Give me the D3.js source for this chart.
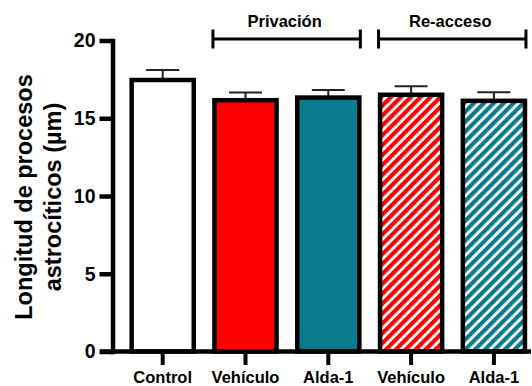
<!DOCTYPE html>
<html>
<head>
<meta charset="utf-8">
<script src="https://d3js.org/d3.v7.min.js"></script>
<style>
  body { margin: 0; background: #fff; }
  text { font-family: Arial, "Liberation Sans", sans-serif; font-weight: bold; fill: #000; }
</style>
</head>
<body>
<div id="container"></div>
<script>
  // data
  var labels = ["Control", "Vehículo", "Alda-1", "Vehículo", "Alda-1"];
  var means = [17.46, 16.16, 16.33, 16.51, 16.12];
  var sems = [0.64, 0.5, 0.48, 0.55, 0.56];
  var yTicks = [0, 5, 10, 15, 20];
  // brackets over the groups: name, first bar, last bar
  var groupNames = ["Privación", "Re-acceso"];
  var groupFrom = [1, 3];
  var groupTo = [2, 4];

  var width = 532, height = 386;
  var red = "#ff0000", teal = "#0a7b8e";

  var svg = d3.select("#container").append("svg")
    .attr("width", width)
    .attr("height", height);

  // hatch patterns for the re-access bars
  var defs = svg.append("defs");
  function hatch(id, color) {
    var p = defs.append("pattern")
      .attr("id", id)
      .attr("patternUnits", "userSpaceOnUse")
      .attr("width", 7)
      .attr("height", 7)
      .attr("patternTransform", "rotate(45)");
    p.append("rect").attr("width", 7).attr("height", 7).attr("fill", "#fff");
    p.append("rect").attr("width", 4.2).attr("height", 7).attr("fill", color);
  }
  hatch("hatchRed", red);
  hatch("hatchTeal", teal);

  var fills = ["#fff", red, teal, "url(#hatchRed)", "url(#hatchTeal)"];

  var x = d3.scaleBand()
    .domain(d3.range(labels.length))
    .range([121.3, 535.3])
    .paddingInner(0.25)
    .paddingOuter(0.125);

  var y = d3.scaleLinear()
    .domain([0, 20])
    .range([351.5, 40.5]);

  // error bars (upper half only, drawn under the bars)
  var err = svg.append("g")
    .attr("stroke", "#222")
    .attr("stroke-width", 2);
  means.forEach(function(m, i) {
    var cx = x(i) + x.bandwidth() / 2;
    err.append("line")
      .attr("x1", cx).attr("x2", cx)
      .attr("y1", y(m)).attr("y2", y(m + sems[i]));
    err.append("line")
      .attr("x1", cx - 16.5).attr("x2", cx + 16.5)
      .attr("y1", y(m + sems[i])).attr("y2", y(m + sems[i]));
  });

  // bars
  svg.append("g").selectAll("rect")
    .data(means)
    .join("rect")
    .attr("x", function(d, i) { return x(i); })
    .attr("y", function(d) { return y(d); })
    .attr("width", x.bandwidth())
    .attr("height", function(d) { return y(0) - y(d); })
    .attr("fill", function(d, i) { return fills[i]; })
    .attr("stroke", "#000")
    .attr("stroke-width", 4.5);

  // y axis
  var yAxis = svg.append("g")
    .attr("transform", "translate(112.5,0)")
    .call(d3.axisLeft(y).tickValues(yTicks).tickSize(13).tickSizeOuter(0).tickPadding(4));
  yAxis.select(".domain")
    .attr("stroke-width", 4.5)
    .attr("stroke-linecap", "square");
  yAxis.selectAll(".tick line").attr("stroke-width", 4.5);
  yAxis.selectAll(".tick text")
    .style("font-size", "19.5px")
    .style("font-family", "Arial, 'Liberation Sans', sans-serif")
    .style("font-weight", "bold");

  // x axis
  svg.append("line")
    .attr("x1", 100).attr("x2", 531)
    .attr("y1", y(0)).attr("y2", y(0))
    .attr("stroke", "#000")
    .attr("stroke-width", 4.5);
  var xg = svg.append("g");
  labels.forEach(function(l, i) {
    var cx = x(i) + x.bandwidth() / 2;
    xg.append("line")
      .attr("x1", cx).attr("x2", cx)
      .attr("y1", y(0)).attr("y2", y(0) + 13.5)
      .attr("stroke", "#000")
      .attr("stroke-width", 4);
    xg.append("text")
      .attr("x", cx)
      .attr("y", 383.3)
      .attr("text-anchor", "middle")
      .style("font-size", "16.5px")
      .text(l);
  });

  // y title
  var titleLines = ["Longitud de procesos", "astrocíticos (µm)"];
  var titleX = [32, 61];
  titleLines.forEach(function(t, i) {
    svg.append("text")
      .attr("transform", "translate(" + titleX[i] + "," + (y(10) + 1) + ") rotate(-90)")
      .attr("text-anchor", "middle")
      .style("font-size", "23.5px")
      .text(t);
  });

  // group brackets
  var br = svg.append("g");
  groupNames.forEach(function(name, i) {
    var x1 = x(groupFrom[i]) - 1.5;
    var x2 = x(groupTo[i]) + x.bandwidth() + 1;
    var by = 39;
    br.append("line")
      .attr("x1", x1).attr("x2", x2)
      .attr("y1", by).attr("y2", by)
      .attr("stroke", "#000").attr("stroke-width", 3);
    [x1, x2].forEach(function(ex) {
      br.append("line")
        .attr("x1", ex).attr("x2", ex)
        .attr("y1", by - 9.5).attr("y2", by + 9.5)
        .attr("stroke", "#000").attr("stroke-width", 3);
    });
    br.append("text")
      .attr("x", (x1 + x2) / 2 - 2)
      .attr("y", 26.7)
      .attr("text-anchor", "middle")
      .style("font-size", "16.5px")
      .text(name);
  });
</script>
</body>
</html>
